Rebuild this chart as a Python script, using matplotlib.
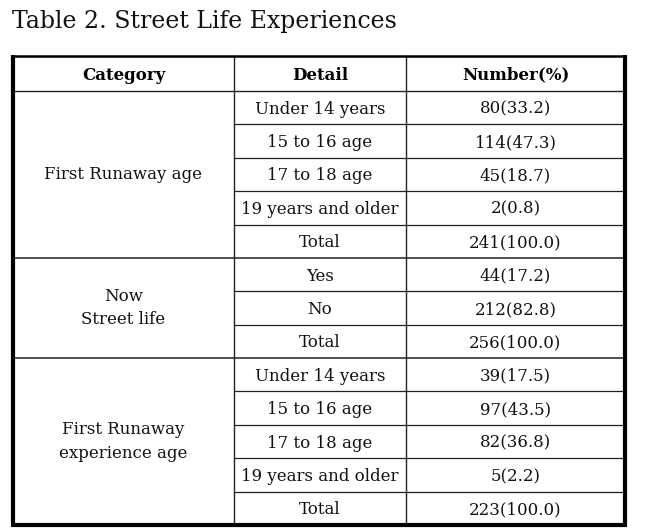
import matplotlib
matplotlib.use("Agg")
import matplotlib.pyplot as plt

title = "Table 2. Street Life Experiences"
headers = ["Category", "Detail", "Number(%)"]
categories = ["First Runaway age", "Now\nStreet life", "First Runaway\nexperience age"]
details = [
    ["Under 14 years", "15 to 16 age", "17 to 18 age", "19 years and older", "Total"],
    ["Yes", "No", "Total"],
    ["Under 14 years", "15 to 16 age", "17 to 18 age", "19 years and older", "Total"],
]
numbers = [
    ["80(33.2)", "114(47.3)", "45(18.7)", "2(0.8)", "241(100.0)"],
    ["44(17.2)", "212(82.8)", "256(100.0)"],
    ["39(17.5)", "97(43.5)", "82(36.8)", "5(2.2)", "223(100.0)"],
]

W, H = 647, 532
fig = plt.figure(figsize=(W / 100, H / 100), dpi=100)
ax = fig.add_axes([0, 0, 1, 1])
ax.set_xlim(0, W)
ax.set_ylim(H, 0)
ax.axis("off")

serif = ["DejaVu Serif"]
x0, x1, x2, x3 = 13, 234, 406, 625
top, hbot, bot = 56, 91, 525
nrows = sum(len(d) for d in details)
rh = (bot - hbot) / nrows

ax.text(12, 28, title, fontsize=17, family=serif, va="baseline", ha="left",
        color="#111111")

lc = "#222222"
fs = 12
tc = "#111111"
# header
hx = [(x0 + x1) / 2, (x1 + x2) / 2, (x2 + x3) / 2]
for x, t in zip(hx, headers):
    ax.text(x, (top + hbot) / 2 + 6, t, fontsize=12, family=serif, weight="bold",
            ha="center", va="baseline", color="black")
ax.plot([x0, x3], [hbot, hbot], color=lc, lw=1.0)

y = hbot
for gi, (cat, dets, nums) in enumerate(zip(categories, details, numbers)):
    gtop = y
    for j, (d, n) in enumerate(zip(dets, nums)):
        cy = y + rh / 2 + 6
        ax.text(hx[1], cy, d, fontsize=fs, family=serif, ha="center", va="baseline", color=tc)
        ax.text(hx[2], cy, n, fontsize=fs, family=serif, ha="center", va="baseline", color=tc)
        y += rh
        if j < len(dets) - 1:
            ax.plot([x1, x3], [y, y], color=lc, lw=0.9)
    ax.text(hx[0], (gtop + y) / 2, cat, fontsize=fs, family=serif, ha="center",
            va="center", linespacing=1.5, color=tc)
    if gi < len(categories) - 1:
        ax.plot([x0, x3], [y, y], color=lc, lw=1.1)

# column lines
ax.plot([x1, x1], [top, bot], color=lc, lw=1.0)
ax.plot([x2, x2], [top, bot], color=lc, lw=1.0)
# outer border
ax.plot([x0, x3], [top, top], color="black", lw=1.8, solid_capstyle="butt")
ax.plot([x0, x0], [top - 1, bot + 1.5], color="black", lw=3.0, solid_capstyle="butt")
ax.plot([x3, x3], [top - 1, bot + 1.5], color="black", lw=3.0, solid_capstyle="butt")
ax.plot([x0 - 1.5, x3 + 1.5], [bot, bot], color="black", lw=3.0, solid_capstyle="butt")

fig.savefig("out.png", dpi=100)
